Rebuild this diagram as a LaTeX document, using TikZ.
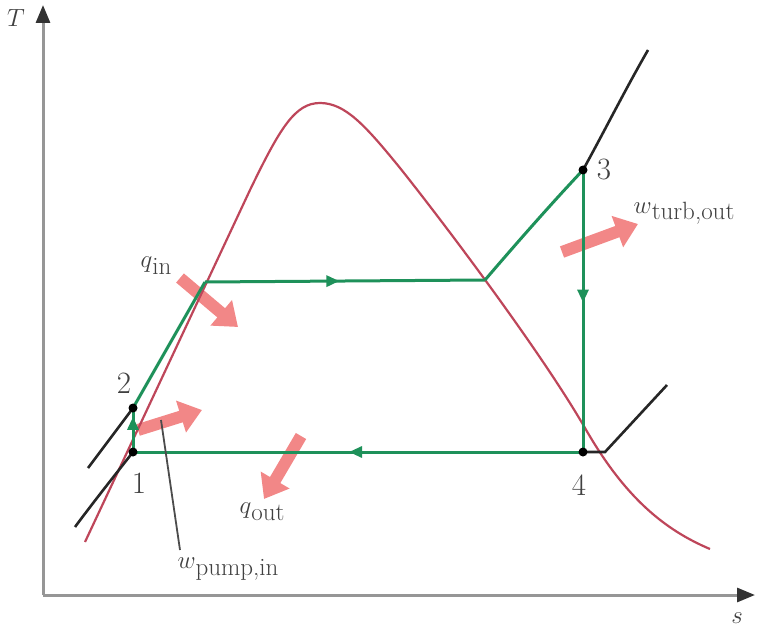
\documentclass[tikz,border=0pt]{standalone}
\usetikzlibrary{arrows.meta,decorations.markings}
\definecolor{cyc}{RGB}{30,145,90}
\definecolor{dome}{RGB}{190,70,90}
\definecolor{heat}{RGB}{242,135,135}
\definecolor{axisgray}{RGB}{150,150,150}
\newcommand{\subsz}{\fontsize{25}{28}\selectfont}
\begin{document}
\begin{tikzpicture}[x=1pt,y=-1pt,
  cyc line/.style={draw=cyc,line width=3pt},
  isobar/.style={draw=black!85,line width=2.6pt},
  domeline/.style={draw=dome,line width=2.2pt},
  axisline/.style={draw=axisgray,line width=3pt,-{Triangle[length=18pt,width=14pt,color=black!80]}},
  heatarrow/.style={draw=heat,line width=12pt,-{Triangle[length=22pt,width=32pt]}},
  flowmark/.style={postaction={decorate},decoration={markings,mark=at position #1 with {\arrow[cyc]{Triangle[length=13pt,width=11pt]}}}},
  lbl/.style={inner sep=0pt,text=black!75,font=\fontsize{29}{32}\selectfont},
  numlbl/.style={inner sep=0pt,text=black!75,font=\fontsize{31}{34}\selectfont},
  dot/.style={circle,fill=black,inner sep=0pt,minimum size=9pt}
]
\useasboundingbox (0,0) rectangle (759,636);

% axes
\coordinate (O) at (43,595);
\coordinate (Ttop) at (43,5);
\coordinate (Sright) at (755,595);
\draw[axisline] (O) -- (Ttop);
\draw[axisline] (O) -- (Sright);
\node[lbl] (Tlab) at (16,18) {$T$};
\node[lbl] (Slab) at (737,618) {$s$};

% state points
\coordinate (p1) at (133,452);
\coordinate (p2) at (133,408);
\coordinate (pf) at (205,282);
\coordinate (pg) at (485,280);
\coordinate (p3) at (583,170);
\coordinate (p4) at (583,452);
\coordinate (p4b) at (605,452);

% heat / work arrows (under the lines)
\coordinate (qinA) at (180,278);
\coordinate (qinB) at (238,327);
\coordinate (wpA) at (138,430);
\coordinate (wpB) at (202,410);
\coordinate (wtA) at (562,252);
\coordinate (wtB) at (638,224);
\coordinate (qoA) at (301,436);
\coordinate (qoB) at (264,499);
\draw[heatarrow] (qinA) -- (qinB);
\draw[heatarrow] (wpA) -- (wpB);
\draw[heatarrow] (wtA) -- (wtB);
\draw[heatarrow] (qoA) -- (qoB);

% saturation dome
\draw[domeline] (85,542) -- (250,190)
  .. controls (280,128) and (295,103) .. (320,103)
  .. controls (345,103) and (365,125) .. (400,168)
  .. controls (440,218) and (540,350) .. (585,428)
  .. controls (625,498) and (665,530) .. (710,549);

% isobars
\draw[isobar] (75,527) .. controls (95,500) and (115,475) .. (p1);
\draw[isobar] (88,468) .. controls (103,448) and (118,428) .. (p2);
\draw[isobar] (p3) .. controls (605,130) and (625,90) .. (648,50);
\draw[isobar] (p4) -- (p4b) -- (667,385);

% cycle
\draw[cyc line,flowmark=0.8] (p1) -- (p2);
\draw[cyc line] (p2) -- (pf);
\draw[cyc line,flowmark=0.48] (pf) -- (pg);
\draw[cyc line] (pg) .. controls (515,245) and (550,205) .. (p3);
\draw[cyc line,flowmark=0.47] (p3) -- (p4);
\draw[cyc line,flowmark=0.52] (p4) -- (p1);

% points
\node[dot] (d1) at (p1) {};
\node[dot] (d2) at (p2) {};
\node[dot] (d3) at (p3) {};
\node[dot] (d4) at (p4) {};

% number labels
\node[numlbl] (n1) at (139,483) {1};
\node[numlbl] (n2) at (124,383) {2};
\node[numlbl] (n3) at (604,170) {3};
\node[numlbl] (n4) at (579,485) {4};

% quantity labels
\node[lbl] (qin) at (156,266) {$q$\raisebox{-7pt}{\subsz in}};
\node[lbl] (wturb) at (684,213) {$w$\raisebox{-6pt}{\subsz turb,out}};
\node[lbl] (qout) at (262,512) {$q$\raisebox{-7pt}{\subsz out}};
\node[lbl] (wpump) at (228,569) {$w$\raisebox{-7pt}{\subsz pump,in}};

% leader for pump work
\coordinate (lead) at (161,420);
\coordinate (leadend) at (180,550);
\draw[black!70,line width=1.8pt] (lead) -- (leadend);
\end{tikzpicture}
\end{document}
